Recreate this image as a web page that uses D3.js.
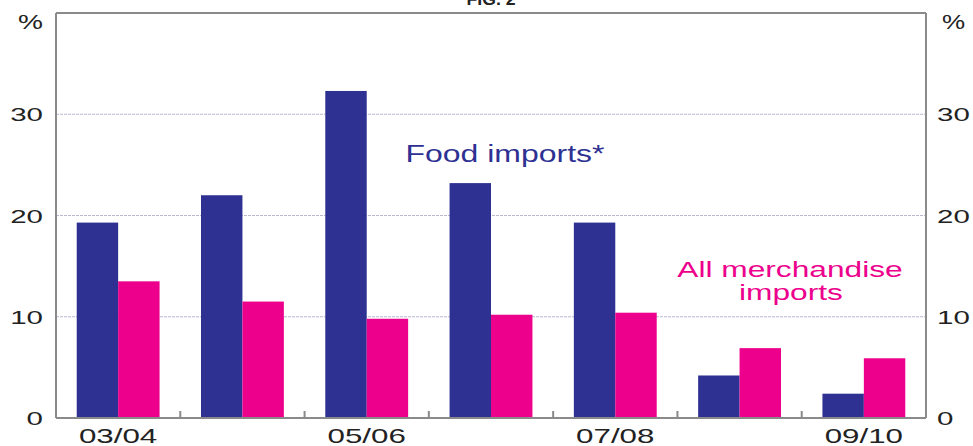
<!DOCTYPE html>
<html>
<head>
<meta charset="utf-8">
<script src="https://cdn.jsdelivr.net/npm/d3@7"></script>
<style>
body { margin: 0; background: #fff; }
svg { font-family: "Liberation Sans", Arial, sans-serif; }
</style>
</head>
<body>
<div id="chart"></div>
<script>
var years = ["03/04", "04/05", "05/06", "06/07", "07/08", "08/09", "09/10"];
var food = [19.3, 22.0, 32.3, 23.2, 19.3, 4.2, 2.4];
var merch = [13.5, 11.5, 9.8, 10.2, 10.4, 6.9, 5.9];
var yTicks = [0, 10, 20, 30];
var xLabels = ["03/04", "05/06", "07/08", "09/10"];

var foodColor = "#2e3192";
var merchColor = "#ec008c";
var axisColor = "#8a8a8a";
var textColor = "#222";

var width = 973, height = 446;
var margin = {left: 56, right: 47, top: 13, bottom: 28};

var svg = d3.select("#chart").append("svg")
	.attr("width", width)
	.attr("height", height);

// the original's lettering is wide, so stretch each text horizontally
function stretch(sel, k) {
	sel.each(function() {
		var w = this.getComputedTextLength();
		d3.select(this).attr("textLength", w * k).attr("lengthAdjust", "spacingAndGlyphs");
	});
	return sel;
}

var x = d3.scaleBand()
	.domain(years)
	.range([margin.left, width - margin.right]);

var inner = d3.scaleBand()
	.domain(["food", "merch"])
	.range([0, x.bandwidth()])
	.paddingOuter(0.5)
	.paddingInner(0);

var y = d3.scaleLinear()
	.domain([0, 40])
	.range([height - margin.bottom, margin.top]);

// gridlines
svg.append("g")
	.selectAll("line")
	.data(yTicks.filter(d => d > 0))
	.enter().append("line")
	.attr("x1", margin.left)
	.attr("x2", width - margin.right)
	.attr("y1", d => y(d))
	.attr("y2", d => y(d))
	.attr("stroke", "#b8b8d0")
	.attr("stroke-width", 1)
	.attr("stroke-dasharray", "3,1");

// bars
var groups = svg.append("g")
	.selectAll("g")
	.data(years)
	.enter().append("g")
	.attr("transform", d => "translate(" + x(d) + ",0)");

groups.append("rect")
	.attr("x", inner("food"))
	.attr("width", inner.bandwidth())
	.attr("y", (d, i) => y(food[i]))
	.attr("height", (d, i) => y(0) - y(food[i]))
	.attr("fill", foodColor);

groups.append("rect")
	.attr("x", inner("merch"))
	.attr("width", inner.bandwidth())
	.attr("y", (d, i) => y(merch[i]))
	.attr("height", (d, i) => y(0) - y(merch[i]))
	.attr("fill", merchColor);

// frame: left, right, top, bottom
var frame = svg.append("g").attr("stroke", axisColor).attr("stroke-width", 2);
frame.append("line").attr("x1", margin.left).attr("x2", margin.left).attr("y1", y(40)).attr("y2", y(0));
frame.append("line").attr("x1", width - margin.right).attr("x2", width - margin.right).attr("y1", y(40)).attr("y2", y(0));
frame.append("line").attr("x1", margin.left).attr("x2", width - margin.right).attr("y1", y(40)).attr("y2", y(40));
frame.append("line").attr("x1", margin.left).attr("x2", width - margin.right).attr("y1", y(0)).attr("y2", y(0));

// tick marks between years
frame.selectAll(".tick")
	.data(years.slice(1))
	.enter().append("line")
	.attr("x1", d => x(d))
	.attr("x2", d => x(d))
	.attr("y1", y(0))
	.attr("y2", y(0) - 7);

// y labels both sides
svg.append("g")
	.selectAll("text")
	.data(yTicks)
	.enter().append("text")
	.attr("x", margin.left - 13)
	.attr("y", d => y(d) + 7)
	.attr("text-anchor", "end")
	.attr("font-size", 19)
	.attr("fill", textColor)
	.text(d => d)
	.call(stretch, 1.55);

svg.append("g")
	.selectAll("text")
	.data(yTicks)
	.enter().append("text")
	.attr("x", width - margin.right + 11)
	.attr("y", d => y(d) + 7)
	.attr("text-anchor", "start")
	.attr("font-size", 19)
	.attr("fill", textColor)
	.text(d => d)
	.call(stretch, 1.55);

svg.append("text").attr("x", 43).attr("y", 29).attr("text-anchor", "end")
	.attr("font-size", 20).attr("fill", textColor).text("%").call(stretch, 1.4);
svg.append("text").attr("x", 942).attr("y", 29).attr("text-anchor", "start")
	.attr("font-size", 20).attr("fill", textColor).text("%").call(stretch, 1.3);

// x labels
svg.append("g")
	.selectAll("text")
	.data(xLabels)
	.enter().append("text")
	.attr("x", d => x(d) + x.bandwidth() / 2)
	.attr("y", 443)
	.attr("text-anchor", "middle")
	.attr("font-size", 21)
	.attr("fill", textColor)
	.text(d => d)
	.call(stretch, 1.49);

// title, cut off at top as in the original
svg.append("text").attr("x", 491).attr("y", 5).attr("text-anchor", "middle")
	.attr("font-size", 16).attr("font-weight", "bold").attr("fill", textColor).text("FIG. 2")
	.call(stretch, 1.1);

// series labels
svg.append("text").attr("x", 505).attr("y", 162).attr("text-anchor", "middle")
	.attr("font-size", 23).attr("fill", foodColor).text("Food imports*")
	.call(stretch, 1.39);
svg.append("text").attr("x", 790).attr("y", 277).attr("text-anchor", "middle")
	.attr("font-size", 22).attr("fill", merchColor).text("All merchandise")
	.call(stretch, 1.44);
svg.append("text").attr("x", 791).attr("y", 300).attr("text-anchor", "middle")
	.attr("font-size", 22).attr("fill", merchColor).text("imports")
	.call(stretch, 1.44);
</script>
</body>
</html>
